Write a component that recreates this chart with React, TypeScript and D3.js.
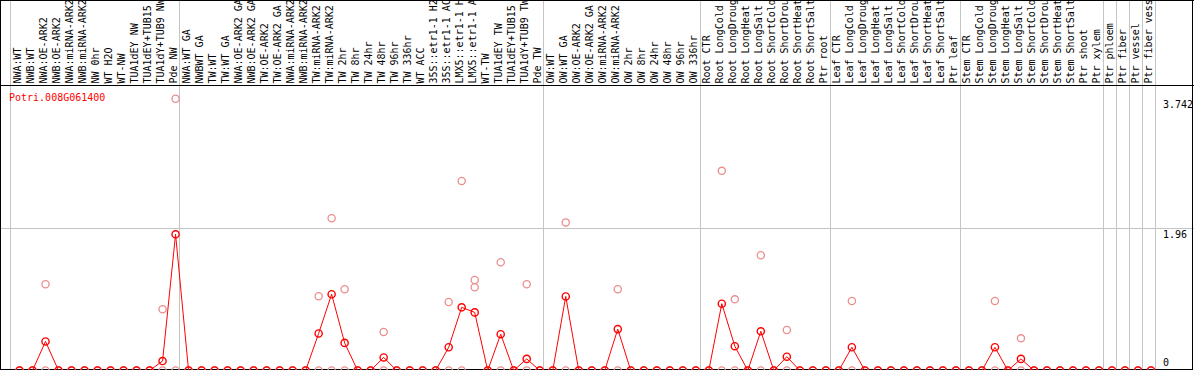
import React, { useEffect } from "react";
import * as d3 from "d3";

const W = 1194;
const H = 370;

const geneName = "Potri.008G061400";

const sampleLabels: string[] = [
  "NWA:WT", "NWB:WT", "NWA:OE-ARK2", "NWB:OE-ARK2", "NWA:miRNA-ARK2", "NWB:miRNA-ARK2",
  "NW 0hr", "WT H2O", "WT-NW", "TUA1dEY NW", "TUA1dEY+TUB15 NW", "TUA1dY+TUB9 NW", "Pde NW",
  "NWA:WT GA", "NWBWT GA", "TW:WT", "TW:WT GA", "NWA:OE-ARK2 GA", "NWB:OE-ARK2 GA",
  "TW:OE-ARK2", "TW:OE-ARK2 GA", "NWA:miRNA-ARK2", "NWB:miRNA-ARK2", "TW:miRNA-ARK2",
  "TW:miRNA-ARK2", "TW 2hr", "TW 8hr", "TW 24hr", "TW 48hr", "TW 96hr", "TW 336hr",
  "WT ACC", "35S::etr1-1 H2O", "35S::etr1-1 ACC", "LMX5::etr1-1 H2O", "LMX5::etr1-1 ACC",
  "WT-TW", "TUA1dEY TW", "TUA1dEY+TUB15 TW", "TUA1dY+TUB9 TW", "Pde TW",
  "OW:WT", "OW:WT GA", "OW:OE-ARK2", "OW:OE-ARK2 GA", "OW:miRNA-ARK2", "OW:miRNA-ARK2",
  "OW 2hr", "OW 8hr", "OW 24hr", "OW 48hr", "OW 96hr", "OW 336hr",
  "Root CTR", "Root LongCold", "Root LongDrought", "Root LongHeat", "Root LongSalt",
  "Root ShortCold", "Root ShortDrought", "Root ShortHeat", "Root ShortSalt", "Ptr root",
  "Leaf CTR", "Leaf LongCold", "Leaf LongDrought", "Leaf LongHeat", "Leaf LongSalt",
  "Leaf ShortCold", "Leaf ShortDrought", "Leaf ShortHeat", "Leaf ShortSalt", "Ptr leaf",
  "Stem CTR", "Stem LongCold", "Stem LongDrought", "Stem LongHeat", "Stem LongSalt",
  "Stem ShortCold", "Stem ShortDrought", "Stem ShortHeat", "Stem ShortSalt", "Ptr shoot",
  "Ptr xylem", "Ptr phloem", "Ptr fiber", "Ptr vessel", "Ptr fiber vessel",
];

// group boundaries (column index where a separator line is drawn)
const groupBoundaries: number[] = [0, 13, 41, 53, 63, 73, 84, 85, 86, 87, 88];

// mean expression per sample
const meanValues: number[] = [
  0, 0, 0.4, 0, 0, 0, 0, 0, 0, 0, 0, 0.13, 1.876,
  0, 0, 0, 0, 0, 0, 0, 0, 0, 0, 0.51, 1.05, 0.38, 0, 0, 0.18, 0, 0,
  0, 0, 0.32, 0.87, 0.8, 0, 0.5, 0, 0.16, 0,
  0, 1.02, 0, 0, 0, 0.57, 0, 0, 0, 0, 0, 0,
  0, 0.92, 0.335, 0, 0.54, 0, 0.19, 0, 0, 0,
  0, 0.32, 0, 0, 0, 0, 0, 0, 0, 0,
  0, 0, 0.32, 0, 0.16, 0, 0, 0, 0, 0, 0,
  0, 0, 0, 0,
];

// replicate values (highest replicate)
const replicateA: number[] = [
  0, 0, 1.187, 0, 0, 0, 0, 0, 0, 0, 0, 0.843, 3.742,
  0, 0, 0, 0, 0, 0, 0, 0, 0, 0, 1.022, 2.096, 1.118, 0, 0, 0.53, 0, 0,
  0, 0, 0.944, 2.61, 1.247, 0, 1.49, 0, 1.187, 0,
  0, 2.04, 0, 0, 0, 1.118, 0, 0, 0, 0, 0, 0,
  0, 2.75, 0.98, 0, 1.587, 0, 0.558, 0, 0, 0,
  0, 0.957, 0, 0, 0, 0, 0, 0, 0, 0,
  0, 0, 0.957, 0, 0.443, 0, 0, 0, 0, 0, 0,
  0, 0, 0, 0,
];

// replicate values (second replicate)
const replicateB: number[] = [
  0, 0, 0, 0, 0, 0, 0, 0, 0, 0, 0, 0, 0,
  0, 0, 0, 0, 0, 0, 0, 0, 0, 0, 0, 0, 0, 0, 0, 0, 0, 0,
  0, 0, 0, 0, 1.146, 0, 0, 0, 0, 0,
  0, 0, 0, 0, 0, 0, 0, 0, 0, 0, 0, 0,
  0, 0, 0, 0, 0, 0, 0, 0, 0, 0,
  0, 0, 0, 0, 0, 0, 0, 0, 0, 0,
  0, 0, 0, 0, 0, 0, 0, 0, 0, 0, 0,
  0, 0, 0, 0,
];

const yTicks: number[] = [0, 1.96, 3.742];

const FONT = "'DejaVu Sans Mono', monospace";

export default function App() {
  useEffect(() => {
    document.body.style.margin = "0";
  }, []);

  const n = sampleLabels.length;
  const xBound = d3.scaleLinear().domain([0, n]).range([10.5, 1155.5]);
  const xPoint = d3.scaleLinear().domain([0, n - 1]).range([19.5, 1151]);
  const y = d3.scaleLinear().domain([0, 3.742]).range([370.5, 98.8]);
  const crisp = (v: number) => Math.floor(v) + 0.5;

  const line = d3
    .line<number>()
    .x((_, i) => xPoint(i))
    .y((d) => y(d));

  const pale = "#ea8e8e";
  const red = "#ff0000";
  const grey = "#c4c4c4";

  return (
    <svg
      width={W}
      height={H}
      style={{ position: "absolute", left: 0, top: 0, display: "block", background: "#fff" }}
    >
      {/* horizontal grid line for middle tick */}
      <line x1={0} x2={W} y1={crisp(y(1.96))} y2={crisp(y(1.96))} stroke={grey} strokeWidth={1} />
      {/* group separators */}
      {groupBoundaries.map((b, i) => (
        <line
          key={"gb" + i}
          x1={crisp(xBound(b))}
          x2={crisp(xBound(b))}
          y1={0}
          y2={369}
          stroke={grey}
          strokeWidth={1}
        />
      ))}
      {/* header labels */}
      {sampleLabels.map((lab, i) => (
        <text
          key={"lab" + i}
          transform={`translate(${xPoint(i) + 1.2},83.5) rotate(-90)`}
          fontFamily={FONT}
          fontSize={10}
          fill="#000"
        >
          {lab}
        </text>
      ))}
      {/* frame */}
      <line x1={0} x2={W} y1={0.5} y2={0.5} stroke="#000" />
      <line x1={0} x2={W} y1={85.5} y2={85.5} stroke="#000" />
      <line x1={0} x2={1193} y1={369.5} y2={369.5} stroke="#000" />
      <line x1={0.5} x2={0.5} y1={0} y2={H} stroke="#000" />
      <line x1={1192.5} x2={1192.5} y1={0} y2={H} stroke="#000" />
      {/* gene label */}
      <text x={9} y={101} fontFamily={FONT} fontSize={10} fill={red}>
        {geneName}
      </text>
      {/* y tick labels */}
      {yTicks.map((t, i) => (
        <text
          key={"yt" + i}
          x={1163}
          y={Math.min(y(t) + 9.5, 366)}
          fontFamily={FONT}
          fontSize={10}
          fill="#000"
        >
          {String(t)}
        </text>
      ))}
      {/* replicate points */}
      {replicateA.map((v, i) => (
        <circle key={"ra" + i} cx={xPoint(i)} cy={y(v)} r={3.6} fill="none" stroke={pale} strokeWidth={1.3} />
      ))}
      {replicateB.map((v, i) => (
        <circle key={"rb" + i} cx={xPoint(i)} cy={y(v)} r={3.6} fill="none" stroke={pale} strokeWidth={1.3} />
      ))}
      {/* mean line */}
      <path d={line(meanValues) || ""} fill="none" stroke={red} strokeWidth={1} />
      {meanValues.map((v, i) => (
        <circle key={"m" + i} cx={xPoint(i)} cy={y(v)} r={3.6} fill="none" stroke={red} strokeWidth={1.4} />
      ))}
    </svg>
  );
}
